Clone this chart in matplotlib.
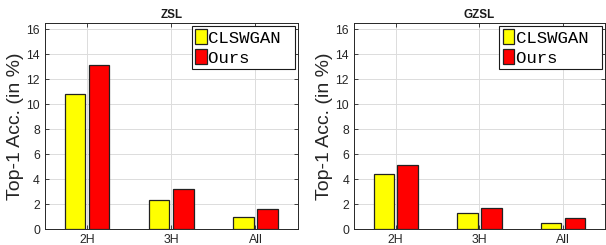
import numpy as np
import matplotlib
matplotlib.use('Agg')
import matplotlib.pyplot as plt
from matplotlib.patches import Patch

plt.rcParams['font.family'] = ['Liberation Sans', 'DejaVu Sans']

# Data
categories = ['2H', '3H', 'All']
series_names = ['CLSWGAN', 'Ours']
zsl_clswgan = [10.8, 2.3, 0.95]
zsl_ours = [13.1, 3.2, 1.6]
gzsl_clswgan = [4.4, 1.25, 0.45]
gzsl_ours = [5.1, 1.7, 0.85]

panels = [
    ('ZSL', zsl_clswgan, zsl_ours),
    ('GZSL', gzsl_clswgan, gzsl_ours),
]
colors = ['#ffff00', '#ff0000']
text_color = '#262626'
edge = '#222222'

fig = plt.figure(figsize=(6.06, 2.45), dpi=100)
axes_pos = [[0.074, 0.065, 0.417, 0.841],
            [0.584, 0.065, 0.414, 0.841]]

x = np.arange(1, len(categories) + 1)
width = 0.245
offset = 0.143

for pos, (title, yellow_vals, red_vals) in zip(axes_pos, panels):
    ax = fig.add_axes(pos)
    ax.set_axisbelow(True)
    ax.grid(True, color='#dcdcdc', linewidth=0.7)
    ax.bar(x - offset, yellow_vals, width, color=colors[0],
           edgecolor=edge, linewidth=0.9)
    ax.bar(x + offset, red_vals, width, color=colors[1],
           edgecolor=edge, linewidth=0.9)

    ax.set_xlim(0.5, 3.5)
    ax.set_ylim(0, 16.5)
    ax.set_xticks(x)
    ax.set_xticklabels(categories)
    ax.set_yticks(np.arange(0, 17, 2))
    ax.tick_params(direction='in', length=3, top=True, right=True,
                   labelsize=8.8, colors=text_color, width=0.6)
    for s in ax.spines.values():
        s.set_color('#262626')
        s.set_linewidth(0.7)

    ax.set_title(title, fontsize=8.4, fontweight='bold', color='#1a1a1a', pad=3.5)
    ax.set_ylabel('Top-1 Acc. (in %)', fontsize=14, color=text_color, labelpad=2)

    handles = [Patch(facecolor=c, edgecolor=edge, linewidth=0.9, label=n + ' ')
               for c, n in zip(colors, series_names)]
    leg = ax.legend(handles=handles, loc='upper right', fancybox=False,
                    framealpha=1, edgecolor='#1a1a1a',
                    prop={'family': 'Liberation Mono', 'size': 12.5},
                    handlelength=0.68, handleheight=0.95, handletextpad=0.08,
                    borderpad=0.2, labelspacing=0.22, borderaxespad=0.15)
    leg.get_frame().set_linewidth(0.8)

fig.savefig('out.png', dpi=100)
